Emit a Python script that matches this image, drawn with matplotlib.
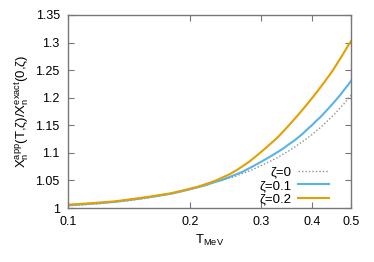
import numpy as np
import matplotlib
matplotlib.use('Agg')
import matplotlib.pyplot as plt
from matplotlib.ticker import FixedLocator, NullLocator, FixedFormatter

# values, every 0.01 in T
T = [0.10, 0.11, 0.12, 0.13, 0.14, 0.15, 0.16, 0.17, 0.18, 0.19,
     0.20, 0.21, 0.22, 0.23, 0.24, 0.25, 0.26, 0.27, 0.28, 0.29,
     0.30, 0.31, 0.32, 0.33, 0.34, 0.35, 0.36, 0.37, 0.38, 0.39,
     0.40, 0.41, 0.42, 0.43, 0.44, 0.45, 0.46, 0.47, 0.48, 0.49, 0.50]
ratio_z0 = [1.004, 1.006, 1.008, 1.011, 1.013, 1.016, 1.019, 1.023, 1.026, 1.030,
            1.034, 1.038, 1.042, 1.046, 1.050, 1.054, 1.058, 1.063, 1.067, 1.072,
            1.077, 1.082, 1.087, 1.092, 1.098, 1.103, 1.109, 1.115, 1.121, 1.127,
            1.133, 1.140, 1.146, 1.153, 1.160, 1.167, 1.174, 1.182, 1.189, 1.197, 1.205]
ratio_z01 = [1.005, 1.007, 1.009, 1.011, 1.014, 1.017, 1.020, 1.023, 1.026, 1.030,
             1.034, 1.038, 1.042, 1.047, 1.051, 1.056, 1.061, 1.066, 1.072, 1.078,
             1.084, 1.090, 1.096, 1.102, 1.108, 1.115, 1.121, 1.128, 1.135, 1.143,
             1.150, 1.158, 1.165, 1.173, 1.181, 1.189, 1.197, 1.205, 1.214, 1.222, 1.231]
ratio_z02 = [1.006, 1.008, 1.010, 1.012, 1.015, 1.018, 1.021, 1.024, 1.027, 1.031,
             1.035, 1.039, 1.044, 1.049, 1.055, 1.061, 1.068, 1.076, 1.084, 1.093,
             1.102, 1.111, 1.120, 1.129, 1.139, 1.149, 1.159, 1.169, 1.179, 1.189,
             1.199, 1.209, 1.219, 1.229, 1.239, 1.249, 1.260, 1.271, 1.282, 1.293, 1.303]

xticks = [0.1, 0.2, 0.3, 0.4, 0.5]
xticklabels = ['0.1', '0.2', '0.3', '0.4', '0.5']
yticks = [1, 1.05, 1.1, 1.15, 1.2, 1.25, 1.3, 1.35]
yticklabels = ['1', '1.05', '1.1', '1.15', '1.2', '1.25', '1.3', '1.35']

plt.rcParams['font.family'] = ['Liberation Sans', 'DejaVu Sans']
plt.rcParams['mathtext.fontset'] = 'custom'
plt.rcParams['mathtext.rm'] = 'Liberation Sans'
plt.rcParams['mathtext.it'] = 'Liberation Sans'

fig = plt.figure(figsize=(3.74, 2.62), dpi=100)
ax = fig.add_axes([0.182, 0.206, 0.757, 0.737])

ax.plot(T, ratio_z0, color='#909090', ls=(0, (1, 1.5)), lw=1.0, label='ζ=0')
ax.plot(T, ratio_z01, color='#56b4e9', lw=1.5, label='ζ=0.1')
ax.plot(T, ratio_z02, color='#e69f00', lw=1.5, label='ζ=0.2')

ax.set_xscale('log')
ax.set_xlim(0.1, 0.5)
ax.set_ylim(1, 1.35)
ax.xaxis.set_major_locator(FixedLocator(xticks))
ax.xaxis.set_major_formatter(FixedFormatter(xticklabels))
ax.xaxis.set_minor_locator(NullLocator())
ax.set_yticks(yticks)
ax.set_yticklabels(yticklabels)

for s in ax.spines.values():
    s.set_color('#777777')
    s.set_linewidth(1.0)
ax.tick_params(direction='in', top=True, right=True, length=4,
               width=0.8, color='#777777', labelsize=9)
ax.tick_params(axis='x', pad=6)
ax.tick_params(axis='y', pad=6)

ax.set_xlabel(r'T$_{\mathrm{MeV}}$', fontsize=9.5, labelpad=3)
ax.set_ylabel(r'X$_{\mathrm{n}}^{\mathrm{app}}$(T,ζ)/X$_{\mathrm{n}}^{\mathrm{exact}}$(0,ζ)',
              fontsize=9.5, labelpad=3)

ax.legend(loc='lower right', frameon=False, markerfirst=False, fontsize=9.5,
          handlelength=2.3, handletextpad=0.5, labelspacing=0.1,
          borderpad=0.0, borderaxespad=0.2, bbox_to_anchor=(0.93, 0.0))

fig.savefig('out.png', dpi=100)
